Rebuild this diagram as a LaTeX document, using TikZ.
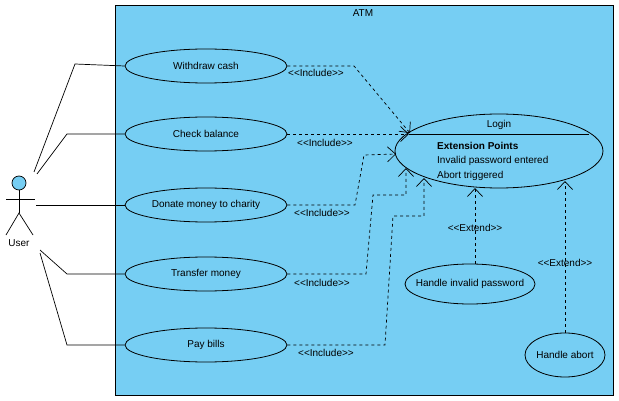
\documentclass[tikz,border=0pt]{standalone}
\usepackage{fontspec}
\setmainfont{Liberation Sans}
\usetikzlibrary{arrows.meta,shapes.geometric}
\definecolor{sky}{HTML}{76CEF3}
\begin{document}
\begin{tikzpicture}[x=1pt,y=-1pt,
  font=\fontsize{10}{12}\selectfont,
  uc/.style={draw,ellipse,fill=sky,line width=0.8pt,inner sep=0pt},
  dep/.style={dashed,line width=0.7pt,-{Straight Barb[length=8pt,width=15pt]}},
  lbl/.style={inner sep=1pt},
  ln/.style={line width=0.7pt}]
\useasboundingbox (0,0) rectangle (619,401);
\node[draw,fill=sky,minimum width=498pt,minimum height=390pt,anchor=north west,line width=0.7pt] (sys) at (115,5) {};
\node (atm) at (363,13) {ATM};
\node[uc,minimum width=162pt,minimum height=34pt] (w) at (206,66) {Withdraw cash};
\node[uc,minimum width=162pt,minimum height=34pt] (c) at (206,134) {Check balance};
\node[uc,minimum width=162pt,minimum height=34pt] (d) at (206,205) {Donate money to charity};
\node[uc,minimum width=162pt,minimum height=34pt] (t) at (206,274) {Transfer money};
\node[uc,minimum width=162pt,minimum height=34pt] (p) at (206,345) {Pay bills};
\node[uc,minimum width=208pt,minimum height=74pt] (login) at (499,151) {};
\draw[line width=0.7pt] (409,134) -- (589,134);
\node (lt) at (499,125) {Login};
\node[anchor=west,lbl] (ep) at (436,146) {\textbf{Extension Points}};
\node[anchor=west,lbl] (e1) at (436,161) {Invalid password entered};
\node[anchor=west,lbl] (e2) at (436,176) {Abort triggered};
\node[uc,inner sep=-10pt,minimum width=130pt,minimum height=40pt] (h) at (470,284) {Handle invalid password};
\node[uc,inner sep=-6pt,minimum width=80pt,minimum height=44pt] (a) at (565,355) {Handle abort};
% actor
\node[draw,circle,fill=sky,minimum size=14pt,inner sep=0pt,line width=0.7pt] (head) at (19,183) {};
\draw[ln] (head.south) -- (19,213) coordinate (hip);
\draw[ln] (6,199) -- (35,199);
\draw[ln] (6,235) -- (hip) -- (33,235);
\node (user) at (19,243) {User};
\coordinate (a1) at (34,172); \coordinate (a2) at (37,174);
\coordinate (a3) at (36,205); \coordinate (a4) at (40,250); \coordinate (a5) at (40,253);
\draw[ln] (a1) -- (75,64) -- (w.west);
\draw[ln] (a2) -- (67,134) -- (c.west);
\draw[ln] (a3) -- (d.west);
\draw[ln] (a4) -- (67,274) -- (t.west);
\draw[ln] (a5) -- (67,345) -- (p.west);
% includes
\coordinate (l1) at (410,133); \coordinate (l2) at (409,134);
\coordinate (l3) at (396,154); \coordinate (l4) at (406,168); \coordinate (l5) at (424,178);
\draw[dep] (w.east) -- (354,66) -- (l1);
\draw[dep] (c.east) -- (l2);
\draw[dep] (d.east) -- (355,205) -- (364,155) -- (l3);
\draw[dep] (t.east) -- (366,274) -- (373,195) -- (406,195) -- (l4);
\draw[dep] (p.east) -- (385,345) -- (393,216) -- (424,216) -- (l5);
\node[lbl] (i1) at (316,73) {<{}<Include>{}>};
\node[lbl] (i2) at (325,143) {<{}<Include>{}>};
\node[lbl] (i3) at (322,213) {<{}<Include>{}>};
\node[lbl] (i4) at (322,283) {<{}<Include>{}>};
\node[lbl] (i5) at (326,353) {<{}<Include>{}>};
% extends
\coordinate (x1) at (475,188); \coordinate (x2) at (565,181);
\draw[dep] (475,264) -- (x1);
\draw[dep] (a.north) -- (x2);
\node[lbl] (x1l) at (475,228) {<{}<Extend>{}>};
\node[lbl] (x2l) at (565,263) {<{}<Extend>{}>};
\end{tikzpicture}
\end{document}
